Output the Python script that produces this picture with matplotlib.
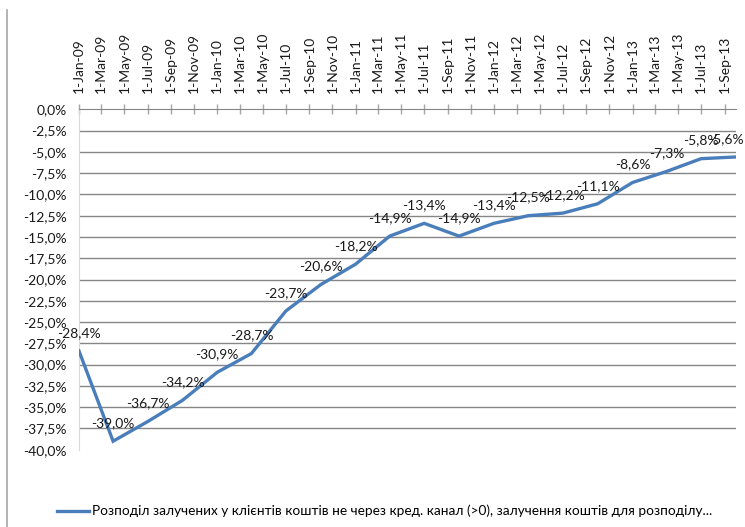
import datetime as dt
import matplotlib
matplotlib.use("Agg")
import matplotlib.pyplot as plt
from matplotlib.lines import Line2D

# квартальні значення, %
dates = ["2009-01", "2009-04", "2009-07", "2009-10",
         "2010-01", "2010-04", "2010-07", "2010-10",
         "2011-01", "2011-04", "2011-07", "2011-10",
         "2012-01", "2012-04", "2012-07", "2012-10",
         "2013-01", "2013-04", "2013-07", "2013-10"]
values = [-28.4, -39.0, -36.7, -34.2,
          -30.9, -28.7, -23.7, -20.6,
          -18.2, -14.9, -13.4, -14.9,
          -13.4, -12.5, -12.2, -11.1,
          -8.6, -7.3, -5.8, -5.6]
series_name = ("Розподіл залучених у клієнтів коштів не через кред. канал (>0), "
               "залучення коштів для розподілу...")
y_ticks = [-40 + 2.5 * i for i in range(17)]

plt.rcParams["font.family"] = ["Lato", "DejaVu Sans"]

x = [dt.datetime.strptime(d, "%Y-%m") for d in dates]

fig = plt.figure(figsize=(7.45, 5.27), dpi=100)
ax = fig.add_axes([79 / 745, 1 - 449.7 / 527, (736 - 79) / 745, (449.7 - 109.3) / 527])

ax.plot(x, values, color="#4A7EBB", lw=2.4, solid_joinstyle="miter", zorder=3)

for xi, v in zip(x, values):
    lab = f"{v:.1f}%".replace(".", ",")
    # останній підпис зсуваємо, щоб не вилазив за край
    dx = -7 if xi == x[-1] else 0
    ax.annotate(lab, (xi, v), xytext=(dx, 13), textcoords="offset points",
                ha="center", va="center", fontsize=10, color="#1a1a1a",
                annotation_clip=False, zorder=4)

ax.set_xlim(x[0], x[-1])
ax.set_ylim(-40, 0)

# вісь дат зверху, кожні два місяці
ticks = [dt.datetime(2009 + m // 12, m % 12 + 1, 1) for m in range(0, 57, 2)]
ax.set_xticks(ticks)
ax.set_xticklabels([f"1-{t:%b-%y}" for t in ticks], rotation=90, fontsize=10,
                   color="#1a1a1a")
ax.xaxis.tick_top()
ax.tick_params(axis="x", direction="inout", length=7, width=1, color="#a6a6a6", pad=8)

ax.set_yticks(y_ticks)
ax.set_yticklabels([f"{v:.1f}%".replace(".", ",") for v in y_ticks], fontsize=10,
                   color="#1a1a1a")
ax.tick_params(axis="y", length=0, pad=9)

ax.yaxis.grid(True, color="#868686", lw=1)
ax.get_ygridlines()[0].set_visible(False)
ax.get_ygridlines()[-1].set_visible(False)

for s in ["right", "bottom"]:
    ax.spines[s].set_visible(False)
ax.spines["top"].set_color("#868686")
ax.spines["left"].set_color("#d9d9d9")

# рамка області діаграми зліва
fig.add_artist(Line2D([7 / 745, 7 / 745], [0, 1 - 10 / 527], color="#a6a6a6", lw=1.2))

handle = Line2D([], [], color="#4A7EBB", lw=2.4)
fig.legend([handle], [series_name], loc="center", bbox_to_anchor=(0.516, 0.03),
           frameon=False, fontsize=9.8, handlelength=2.4, handletextpad=0.2)

fig.savefig("out.png", dpi=100)
